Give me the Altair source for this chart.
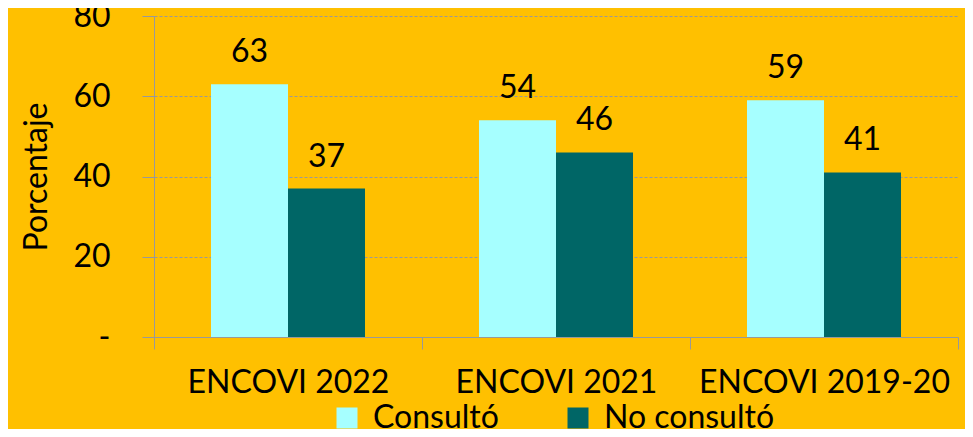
import altair as alt
import pandas as pd

categorias = ["ENCOVI 2022", "ENCOVI 2021", "ENCOVI 2019-20"]
series = ["Consultó", "No consultó"]
consulto = [63, 54, 59]
no_consulto = [37, 46, 41]
colores = ["#A6FFFF", "#006666"]

rows = []
for i, c in enumerate(categorias):
    rows.append({"cat": c, "serie": series[0], "valor": consulto[i]})
    rows.append({"cat": c, "serie": series[1], "valor": no_consulto[i]})
df = pd.DataFrame(rows)

FONT = "Lato"

x = alt.X("cat:N", sort=categorias, title=None,
          scale=alt.Scale(paddingInner=0, paddingOuter=0),
          axis=alt.Axis(labelAngle=0, labelFontSize=32, labelColor="black",
                        labelFont=FONT, tickBand="extent", tickSize=12,
                        tickColor="#999999", domainColor="#999999",
                        labelPadding=18, grid=False, labelLimit=400))
xo = alt.XOffset("serie:N", sort=series,
                 scale=alt.Scale(paddingInner=0, paddingOuter=0.74))
y = alt.Y("valor:Q", title="Porcentaje",
          scale=alt.Scale(domain=[0, 80], nice=False),
          axis=alt.Axis(values=[0, 20, 40, 60, 80],
                        labelExpr="datum.value == 0 ? '-' : datum.label",
                        labelFontSize=32, labelFont=FONT, labelColor="black",
                        labelPadding=32, tickSize=12, tickColor="#999999",
                        domainColor="#999999", gridColor="#999999",
                        gridDash=[3, 2], gridWidth=1, gridOpacity=1,
                        titleFontSize=32, titleFont=FONT, titleFontWeight="normal",
                        titleColor="black", titlePadding=19))

color = alt.Color("serie:N", sort=series,
                  scale=alt.Scale(domain=series, range=colores),
                  legend=alt.Legend(title=None, orient="none", direction="horizontal",
                                    legendX=177, legendY=386, padding=0,
                                    symbolType="square", symbolSize=441,
                                    symbolStrokeWidth=0, labelFontSize=32,
                                    labelFont=FONT, labelColor="black",
                                    labelOffset=10, columnPadding=63,
                                    labelLimit=400))

bars = alt.Chart(df).mark_bar(opacity=1).encode(x=x, xOffset=xo, y=y, color=color)
text = alt.Chart(df).mark_text(fontSize=32, font=FONT, color="black",
                               baseline="alphabetic", dy=-22).encode(
    x=alt.X("cat:N", sort=categorias), xOffset=xo, y="valor:Q",
    text=alt.Text("valor:Q"))

chart = alt.layer(bars, text).properties(
    width=804, height=321,
    autosize=alt.AutoSizeParams(type="none"),
    padding={"left": 146, "top": 8, "right": 7, "bottom": 92},
    background="#FFC000",
).configure_view(stroke=None)

chart.save("out.html", embed_options={"renderer": "svg", "actions": False})
